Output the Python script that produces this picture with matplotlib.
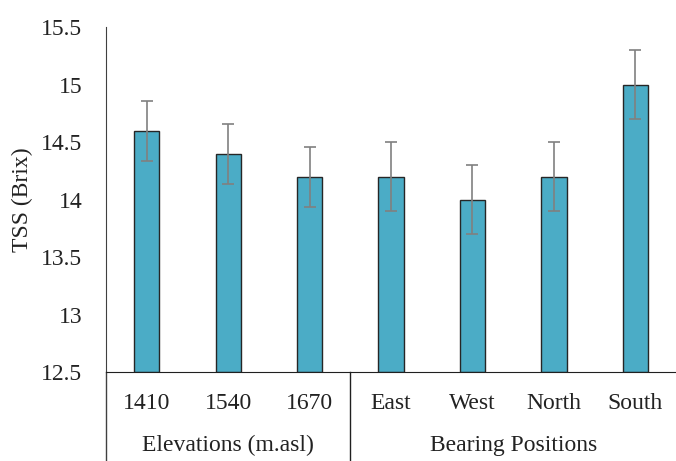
import matplotlib
matplotlib.use('Agg')
import matplotlib.pyplot as plt
import numpy as np

# data
categories = ['1410', '1540', '1670', 'East', 'West', 'North', 'South']
tss_mean = [14.6, 14.4, 14.2, 14.2, 14.0, 14.2, 15.0]
tss_err = [0.26, 0.26, 0.26, 0.3, 0.3, 0.3, 0.3]
groups = ['Elevations (m.asl)', 'Bearing Positions']
group_sizes = [3, 4]
y_ticks = [12.5, 13, 13.5, 14, 14.5, 15, 15.5]

plt.rcParams['font.family'] = ['Liberation Serif', 'DejaVu Serif']

fig = plt.figure(figsize=(6.76, 4.61), dpi=100)
ax = fig.add_axes([0.157, 0.193, 0.843, 0.748])

x = np.arange(len(categories))
ax.bar(x, np.array(tss_mean) - 12.5, bottom=12.5, width=0.31, color='#4bacc6',
       edgecolor='#262626', linewidth=1.0, zorder=2)
ax.errorbar(x, tss_mean, yerr=tss_err, fmt='none', ecolor='#808080',
            elinewidth=1.2, capsize=4, capthick=1.2, zorder=3)

ax.set_xlim(-0.5, len(categories) - 0.5)
ax.set_ylim(12.5, 15.5)
ax.set_yticks(y_ticks)
ax.set_yticklabels(['12.5', '13', '13.5', '14', '14.5', '15', '15.5'])
ax.tick_params(axis='y', length=0, pad=17, labelsize=17, colors='#222222')
ax.set_xticks(x)
ax.set_xticklabels(categories)
ax.tick_params(axis='x', length=0, pad=15, labelsize=17, colors='#222222')

ax.spines['top'].set_visible(False)
ax.spines['right'].set_visible(False)
ax.spines['left'].set_color('#404040')
ax.spines['bottom'].set_color('#202020')

ax.set_ylabel('TSS (Brix)', fontsize=17, color='#222222', labelpad=6)

# group labels and separators below the axis
trans = ax.get_xaxis_transform()
start = -0.5
ax.plot([start, start], [0, -0.26], transform=trans, color='#404040',
        lw=1, clip_on=False)
for name, n in zip(groups, group_sizes):
    end = start + n
    ax.text((start + end) / 2, -0.213, name, transform=trans, ha='center',
            va='center', fontsize=17, color='#222222')
    if end < len(categories) - 0.5:
        ax.plot([end, end], [0, -0.26], transform=trans, color='#202020',
                lw=1, clip_on=False)
    start = end

fig.savefig('out.png', dpi=100)
